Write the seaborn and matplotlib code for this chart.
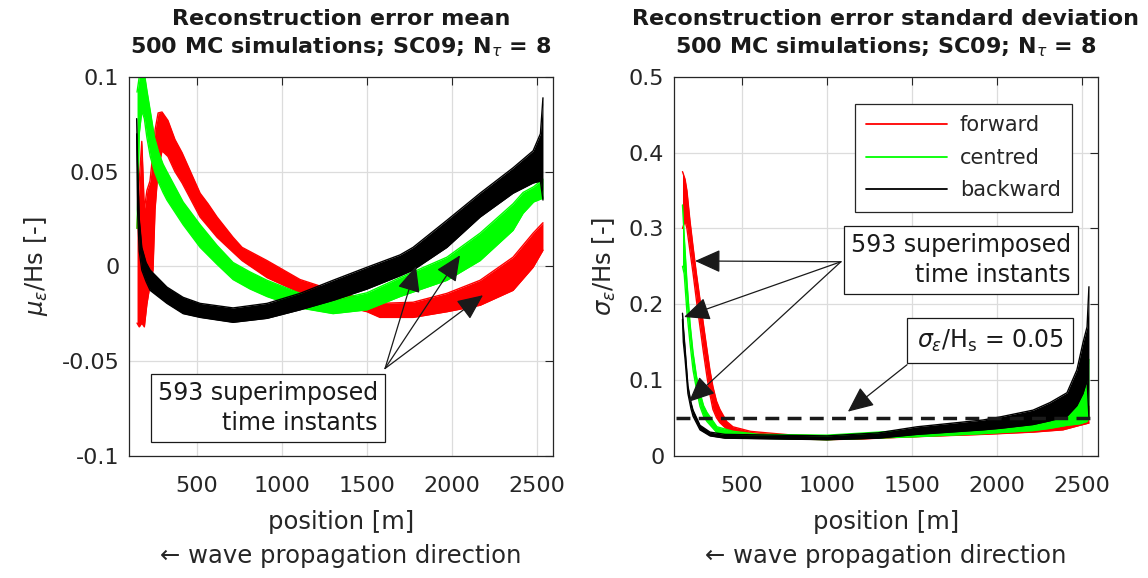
import matplotlib
matplotlib.use("Agg")
import matplotlib.pyplot as plt
import seaborn as sns
from matplotlib.lines import Line2D

# ---------------- data ----------------
# Left panel: reconstruction error mean, band envelopes (lower / upper) of 593 curves
mean_fwd_x  = [147, 160, 175, 190, 205, 223, 241, 253, 271, 294, 329, 370, 412, 518, 565, 618, 712, 765,
               912, 1106, 1300, 1500, 1576, 1771, 1970, 2165, 2359, 2477, 2535]
mean_fwd_lo = [-0.030, -0.032, -0.030, -0.032, -0.020, -0.010, -0.002, 0.030, 0.051, 0.061, 0.058, 0.050,
               0.044, 0.026, 0.021, 0.0153, 0.0074, 0.003, -0.006, -0.014, -0.0196, -0.024, -0.027,
               -0.027, -0.024, -0.0206, -0.0127, -0.0005, 0.0085]
mean_fwd_hi = [0.020, 0.045, 0.066, 0.030, 0.040, 0.045, 0.060, 0.072, 0.081, 0.0815, 0.077, 0.067,
               0.060, 0.0386, 0.033, 0.026, 0.0153, 0.010, 0.003, -0.007, -0.0127, -0.018, -0.0196,
               -0.019, -0.0143, -0.0074, 0.0048, 0.0175, 0.023]

mean_cen_x  = [147, 160, 175, 190, 205, 225, 250, 275, 300, 323, 418, 518, 618, 712, 812, 912, 1106,
               1300, 1500, 1694, 1970, 2165, 2359, 2418, 2480, 2535]
mean_cen_lo = [0.020, 0.070, 0.082, 0.078, 0.068, 0.058, 0.050, 0.044, 0.039, 0.035, 0.022, 0.010,
               0.001, -0.007, -0.012, -0.016, -0.022, -0.025, -0.023, -0.016, -0.0074, 0.003, 0.019,
               0.028, 0.034, 0.036]
mean_cen_hi = [0.092, 0.100, 0.103, 0.102, 0.093, 0.082, 0.068, 0.060, 0.054, 0.050, 0.034, 0.022,
               0.011, 0.002, -0.003, -0.0074, -0.0143, -0.018, -0.014, -0.006, 0.0048, 0.0175, 0.033,
               0.039, 0.042, 0.046]

mean_bwd_x  = [145, 150, 160, 175, 200, 224, 323, 418, 518, 712, 912, 1106, 1300, 1500, 1694, 1771,
               1970, 2165, 2359, 2477, 2520, 2535]
mean_bwd_lo = [0.070, 0.030, 0.008, -0.002, -0.008, -0.0127, -0.0196, -0.025, -0.027, -0.0296, -0.0275,
               -0.023, -0.018, -0.012, -0.005, -0.002, 0.010, 0.026, 0.0386, 0.044, 0.045, 0.035]
mean_bwd_hi = [0.078, 0.055, 0.025, 0.010, 0.002, -0.002, -0.011, -0.0164, -0.0196, -0.022, -0.0196,
               -0.0143, -0.0074, -0.0005, 0.006, 0.010, 0.0243, 0.0386, 0.052, 0.061, 0.070, 0.089]

# Right panel: reconstruction error standard deviation
std_fwd_x  = [150, 165, 176, 194, 212, 232, 253, 274, 294, 312, 329, 350, 370, 410, 447, 550, 647, 800,
              1000, 1200, 1529, 1918, 2212, 2388, 2488, 2541]
std_fwd_lo = [0.300, 0.310, 0.300, 0.270, 0.241, 0.205, 0.170, 0.135, 0.104, 0.080, 0.061, 0.050, 0.0435,
              0.035, 0.030, 0.026, 0.024, 0.022, 0.021, 0.022, 0.025, 0.028, 0.031, 0.034, 0.040, 0.043]
std_fwd_hi = [0.375, 0.365, 0.350, 0.310, 0.276, 0.240, 0.206, 0.172, 0.140, 0.112, 0.091, 0.072, 0.061,
              0.045, 0.038, 0.032, 0.030, 0.027, 0.026, 0.028, 0.034, 0.038, 0.040, 0.050, 0.060, 0.065]

std_cen_x  = [150, 160, 176, 194, 212, 232, 253, 274, 294, 353, 450, 600, 1000, 1529, 1918, 2212, 2312,
              2412, 2488, 2530, 2541]
std_cen_lo = [0.250, 0.240, 0.190, 0.149, 0.113, 0.088, 0.065, 0.052, 0.045, 0.030, 0.026, 0.023, 0.021,
              0.025, 0.029, 0.033, 0.036, 0.040, 0.042, 0.045, 0.050]
std_cen_hi = [0.331, 0.290, 0.230, 0.175, 0.136, 0.105, 0.083, 0.066, 0.057, 0.038, 0.032, 0.028, 0.027,
              0.034, 0.040, 0.050, 0.060, 0.070, 0.085, 0.108, 0.127]

std_bwd_x  = [150, 155, 165, 182, 200, 212, 253, 312, 400, 1000, 1300, 1529, 1918, 2018, 2212, 2312,
              2412, 2470, 2506, 2530, 2541]
std_bwd_lo = [0.180, 0.150, 0.128, 0.082, 0.062, 0.052, 0.034, 0.026, 0.023, 0.021, 0.023, 0.028, 0.034,
              0.036, 0.041, 0.046, 0.052, 0.066, 0.082, 0.100, 0.050]
std_bwd_hi = [0.188, 0.170, 0.142, 0.092, 0.070, 0.060, 0.040, 0.031, 0.028, 0.026, 0.030, 0.038, 0.047,
              0.051, 0.060, 0.070, 0.083, 0.113, 0.149, 0.170, 0.223]

threshold = 0.05
threshold_x = [110, 2546]

series_names = ["forward", "centred", "backward"]
series_colors = ["#ff0000", "#00ff00", "#000000"]

x_ticks = [500, 1000, 1500, 2000, 2500]
x_ticklabels = ["500", "1000", "1500", "2000", "2500"]
mean_yticks = [-0.1, -0.05, 0, 0.05, 0.1]
mean_yticklabels = ["-0.1", "-0.05", "0", "0.05", "0.1"]
std_yticks = [0, 0.1, 0.2, 0.3, 0.4, 0.5]
std_yticklabels = ["0", "0.1", "0.2", "0.3", "0.4", "0.5"]

# annotation arrow anchor points (data coordinates)
mean_arrow_from = (1606, -0.054)
mean_arrow_to = [(1788, 0.0), (2047, 0.0058), (2182, -0.0153)]
std_arrow_from = (1082, 0.256)
std_arrow_to = [(224, 0.257), (159, 0.183), (188, 0.071)]
thr_arrow_from = (1471, 0.12)
thr_arrow_to = (1123, 0.058)

# ---------------- styling ----------------
sns.set_theme(style="white")
plt.rcParams["font.family"] = ["DejaVu Sans"]
plt.rcParams["mathtext.fontset"] = "dejavusans"

fig = plt.figure(figsize=(11.48, 5.78), dpi=100)
ax1 = fig.add_axes([0.1124, 0.2118, 0.3693, 0.6550])
ax2 = fig.add_axes([0.5871, 0.2118, 0.3693, 0.6550])

TXT = "#262626"


def draw_band(ax, x, lo, hi, color):
    ax.fill_between(x, lo, hi, color=color, lw=0, zorder=2)
    sns.lineplot(x=x, y=lo, color=color, lw=1.0, ax=ax, legend=False, zorder=2)
    sns.lineplot(x=x, y=hi, color=color, lw=1.0, ax=ax, legend=False, zorder=2)


draw_band(ax1, mean_fwd_x, mean_fwd_lo, mean_fwd_hi, series_colors[0])
draw_band(ax1, mean_cen_x, mean_cen_lo, mean_cen_hi, series_colors[1])
draw_band(ax1, mean_bwd_x, mean_bwd_lo, mean_bwd_hi, series_colors[2])

draw_band(ax2, std_fwd_x, std_fwd_lo, std_fwd_hi, series_colors[0])
draw_band(ax2, std_cen_x, std_cen_lo, std_cen_hi, series_colors[1])
draw_band(ax2, std_bwd_x, std_bwd_lo, std_bwd_hi, series_colors[2])

ax2.plot(threshold_x, [threshold, threshold], color="k", lw=2.5, dashes=(4, 2.4), zorder=4)

for ax, yt, ytl, ylim in [(ax1, mean_yticks, mean_yticklabels, (-0.1, 0.1)),
                          (ax2, std_yticks, std_yticklabels, (0, 0.5))]:
    ax.set_xlim(100, 2594)
    ax.set_ylim(*ylim)
    ax.set_xticks(x_ticks)
    ax.set_xticklabels(x_ticklabels)
    ax.set_yticks(yt)
    ax.set_yticklabels(ytl)
    ax.grid(True, color="#dcdcdc", lw=0.9, zorder=0)
    ax.set_axisbelow(True)
    ax.tick_params(direction="in", top=True, right=True, length=6, width=0.8,
                   labelsize=16, colors=TXT, pad=7)
    ax.tick_params(axis="x", pad=15)
    for s in ax.spines.values():
        s.set_visible(True)
        s.set_color(TXT)
        s.set_linewidth(0.9)
    ax.set_xlabel("position [m]\n\u2190 wave propagation direction", fontsize=17.5,
                  color=TXT, linespacing=1.5, labelpad=10)

ax1.set_ylabel(r"$\mu_\epsilon$/Hs [-]", fontsize=17.5, color=TXT, labelpad=8)
ax2.set_ylabel(r"$\sigma_\epsilon$/Hs [-]", fontsize=17.5, color=TXT, labelpad=8)

ax1.set_title("Reconstruction error mean\n500 MC simulations; SC09; N$_\\tau$ = 8",
              fontsize=16, fontweight="bold", color="k", pad=17, linespacing=1.35)
ax2.set_title("Reconstruction error standard deviation\n500 MC simulations; SC09; N$_\\tau$ = 8",
              fontsize=16, fontweight="bold", color="k", pad=17, linespacing=1.35)

# legend
handles = [Line2D([0], [0], color=c, lw=1.3) for c in series_colors]
leg = ax2.legend(handles, series_names, loc="upper right", bbox_to_anchor=(0.939, 0.929),
                 borderaxespad=0, fontsize=15, frameon=True, fancybox=False, framealpha=1,
                 edgecolor=TXT, handlelength=3.9, labelspacing=0.6, borderpad=0.55,
                 handletextpad=0.6)
leg.get_frame().set_linewidth(0.9)
for t in leg.get_texts():
    t.set_color(TXT)

box = dict(boxstyle="square,pad=0.3", fc="white", ec="k", lw=0.9)
arrow = dict(arrowstyle="-|>,head_length=1.0,head_width=0.45", color="k", lw=0.9,
             mutation_scale=16, shrinkA=0, shrinkB=0)

# left annotation
for tgt in mean_arrow_to:
    ax1.annotate("", xy=tgt, xytext=mean_arrow_from, arrowprops=arrow, zorder=5)
ax1.text(0.587, 0.126, "593 superimposed\ntime instants", transform=ax1.transAxes,
         ha="right", va="center", multialignment="right", fontsize=17, color="k",
         linespacing=1.3, bbox=box, zorder=6)

# right annotations
for tgt in std_arrow_to:
    ax2.annotate("", xy=tgt, xytext=std_arrow_from, arrowprops=arrow, zorder=5)
ax2.text(0.936, 0.516, "593 superimposed\ntime instants", transform=ax2.transAxes,
         ha="right", va="center", multialignment="right", fontsize=17, color="k",
         linespacing=1.3, bbox=box, zorder=6)
ax2.annotate("", xy=thr_arrow_to, xytext=thr_arrow_from, arrowprops=arrow, zorder=5)
ax2.text(0.746, 0.303, r"$\sigma_\epsilon$/H$_\mathrm{s}$ = 0.05", transform=ax2.transAxes,
         ha="center", va="center", fontsize=17, color="k",
         bbox=dict(boxstyle="square,pad=0.4", fc="white", ec="k", lw=0.9), zorder=6)

fig.savefig("out.png", dpi=100)
